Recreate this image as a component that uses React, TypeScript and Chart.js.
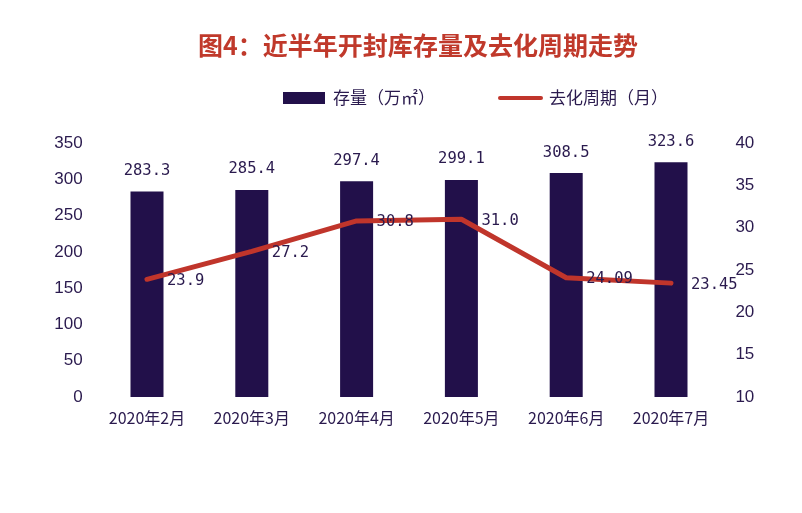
import React, { useEffect, useRef } from "react";
import { Chart, registerables } from "chart.js";

Chart.register(...registerables);

const TITLE = "图4：近半年开封库存量及去化周期走势";
const categories = ["2020年2月", "2020年3月", "2020年4月", "2020年5月", "2020年6月", "2020年7月"];
const stockName = "存量（万㎡）";
const cycleName = "去化周期（月）";
const stockValues = [283.3, 285.4, 297.4, 299.1, 308.5, 323.6];
const stockLabels = ["283.3", "285.4", "297.4", "299.1", "308.5", "323.6"];
const cycleValues = [23.9, 27.2, 30.8, 31.0, 24.09, 23.45];
const cycleLabels = ["23.9", "27.2", "30.8", "31.0", "24.09", "23.45"];

const BAR_COLOR = "#22104a";
const LINE_COLOR = "#c0352b";
const TEXT_COLOR = "#2a1a4e";
const W = 786;
const H = 480;

const overlay = {
  id: "overlay",
  afterDatasetsDraw(chart: any) {
    const ctx = chart.ctx;
    ctx.save();
    ctx.fillStyle = TEXT_COLOR;
    ctx.font = "15.5px 'DejaVu Sans Mono', monospace";
    const barMeta = chart.getDatasetMeta(1);
    barMeta.data.forEach((el: any, i: number) => {
      ctx.textAlign = "center";
      ctx.textBaseline = "middle";
      ctx.fillText(stockLabels[i], el.x, el.y - 20.5);
    });
    const lineMeta = chart.getDatasetMeta(0);
    lineMeta.data.forEach((el: any, i: number) => {
      ctx.textAlign = "left";
      ctx.textBaseline = "middle";
      ctx.fillText(cycleLabels[i], el.x + 20, el.y + 1.5);
    });
    ctx.restore();
  },
  afterDraw(chart: any) {
    const ctx = chart.ctx;
    ctx.save();
    // title
    ctx.fillStyle = "#c0392b";
    ctx.font = "bold 25px 'Noto Sans CJK SC', sans-serif";
    ctx.textAlign = "center";
    ctx.textBaseline = "middle";
    ctx.fillText(TITLE, 410, 37);
    // legend
    ctx.font = "17px 'Noto Sans CJK SC', sans-serif";
    ctx.textAlign = "left";
    ctx.fillStyle = BAR_COLOR;
    ctx.fillRect(275, 84, 42, 12);
    ctx.fillStyle = TEXT_COLOR;
    ctx.fillText(stockName, 325, 90);
    ctx.strokeStyle = LINE_COLOR;
    ctx.lineWidth = 4;
    ctx.lineCap = "round";
    ctx.beginPath();
    ctx.moveTo(492, 90);
    ctx.lineTo(533, 90);
    ctx.stroke();
    ctx.fillText(cycleName, 541, 90);
    ctx.restore();
  },
};

export default function App() {
  const ref = useRef<HTMLCanvasElement>(null);
  useEffect(() => {
    if (!ref.current) return;
    const tickFont = { family: "'Liberation Sans', Arial, sans-serif", size: 17 };
    const chart = new Chart(ref.current, {
      type: "bar",
      data: {
        labels: categories,
        datasets: [
          {
            type: "line",
            label: cycleName,
            data: cycleValues,
            yAxisID: "y1",
            borderColor: LINE_COLOR,
            backgroundColor: LINE_COLOR,
            borderWidth: 5,
            borderCapStyle: "round",
            borderJoinStyle: "round",
            tension: 0,
            pointRadius: 0,
            order: 0,
          } as any,
          {
            type: "bar",
            label: stockName,
            data: stockValues,
            yAxisID: "y",
            backgroundColor: BAR_COLOR,
            categoryPercentage: 1,
            barPercentage: 0.315,
            order: 1,
          },
        ],
      },
      options: {
        animation: false,
        responsive: true,
        maintainAspectRatio: false,
        layout: { padding: { top: 135, left: 0, right: 0, bottom: 0 } },
        plugins: {
          legend: { display: false },
          title: { display: false },
          tooltip: { enabled: false },
        },
        scales: {
          x: {
            grid: { display: false, drawTicks: false },
            border: { display: false },
            ticks: {
              color: TEXT_COLOR,
              font: { family: "'Noto Sans CJK SC', sans-serif", size: 16 },
              padding: 11,
              maxRotation: 0,
            },
            afterFit(s: any) {
              s.height = H - 389;
            },
          },
          y: {
            position: "left",
            min: 0,
            max: 350,
            grid: { display: false, drawTicks: false },
            border: { display: false },
            ticks: { stepSize: 50, color: TEXT_COLOR, font: tickFont, padding: 12 },
            afterFit(s: any) {
              s.width = 86.6;
            },
          },
          y1: {
            position: "right",
            min: 10,
            max: 40,
            grid: { display: false, drawTicks: false },
            border: { display: false },
            ticks: { stepSize: 5, color: TEXT_COLOR, font: tickFont, padding: 12 },
            afterFit(s: any) {
              s.width = W - 715.4;
            },
          },
        },
      },
      plugins: [overlay],
    });
    return () => chart.destroy();
  }, []);
  return (
    <div style={{ width: W, height: H, position: "relative" }}>
      <canvas ref={ref} />
    </div>
  );
}
